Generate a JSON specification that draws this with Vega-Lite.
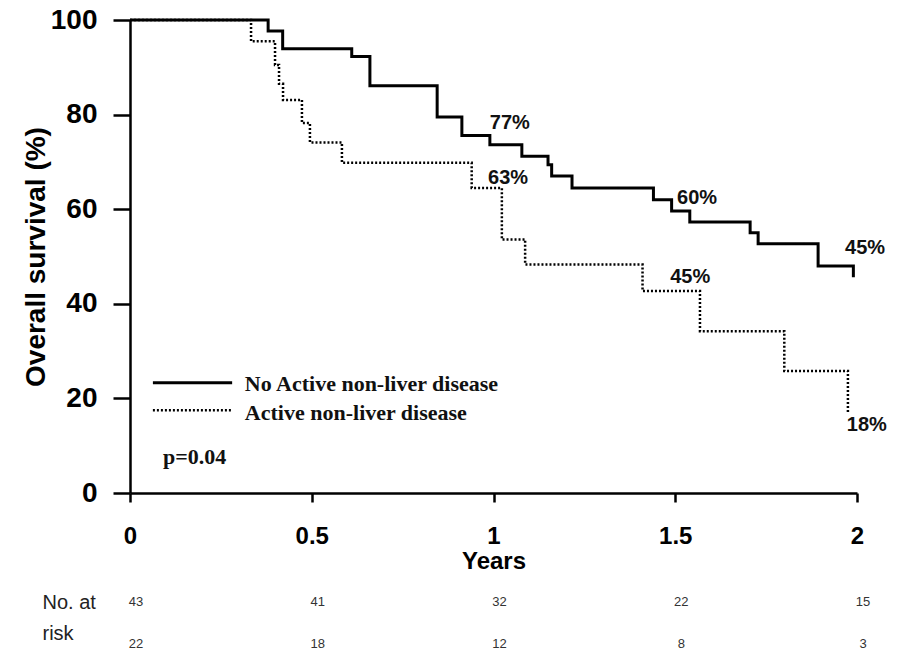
{
  "$schema": "https://vega.github.io/schema/vega-lite/v6.json",
  "autosize": {"type": "pad"},
  "padding": {"left": 22, "top": 6, "right": 5, "bottom": 0},
  "background": "white",
  "config": {"view": {"stroke": null}, "font": "Liberation Sans"},
  "datasets": {
    "km": [
      {"group": "No Active non-liver disease", "t": 0, "s": 100},
      {"group": "No Active non-liver disease", "t": 0.38, "s": 97.7},
      {"group": "No Active non-liver disease", "t": 0.42, "s": 93.9},
      {"group": "No Active non-liver disease", "t": 0.61, "s": 92.3},
      {"group": "No Active non-liver disease", "t": 0.66, "s": 86.1},
      {"group": "No Active non-liver disease", "t": 0.845, "s": 79.5},
      {"group": "No Active non-liver disease", "t": 0.913, "s": 75.6},
      {"group": "No Active non-liver disease", "t": 0.99, "s": 73.6},
      {"group": "No Active non-liver disease", "t": 1.078, "s": 71.2},
      {"group": "No Active non-liver disease", "t": 1.15, "s": 69.4},
      {"group": "No Active non-liver disease", "t": 1.16, "s": 67.0},
      {"group": "No Active non-liver disease", "t": 1.216, "s": 64.5},
      {"group": "No Active non-liver disease", "t": 1.44, "s": 62.0},
      {"group": "No Active non-liver disease", "t": 1.49, "s": 59.6},
      {"group": "No Active non-liver disease", "t": 1.54, "s": 57.3},
      {"group": "No Active non-liver disease", "t": 1.706, "s": 55.0},
      {"group": "No Active non-liver disease", "t": 1.728, "s": 52.7},
      {"group": "No Active non-liver disease", "t": 1.893, "s": 48.0},
      {"group": "No Active non-liver disease", "t": 1.99, "s": 45.6},
      {"group": "Active non-liver disease", "t": 0, "s": 100},
      {"group": "Active non-liver disease", "t": 0.333, "s": 95.5},
      {"group": "Active non-liver disease", "t": 0.399, "s": 90.5},
      {"group": "Active non-liver disease", "t": 0.41, "s": 86.5},
      {"group": "Active non-liver disease", "t": 0.421, "s": 83.1},
      {"group": "Active non-liver disease", "t": 0.473, "s": 78.2},
      {"group": "Active non-liver disease", "t": 0.495, "s": 74.1},
      {"group": "Active non-liver disease", "t": 0.583, "s": 69.8},
      {"group": "Active non-liver disease", "t": 0.94, "s": 64.5},
      {"group": "Active non-liver disease", "t": 1.023, "s": 53.6},
      {"group": "Active non-liver disease", "t": 1.087, "s": 48.3},
      {"group": "Active non-liver disease", "t": 1.41, "s": 42.7},
      {"group": "Active non-liver disease", "t": 1.568, "s": 34.2},
      {"group": "Active non-liver disease", "t": 1.8, "s": 25.8},
      {"group": "Active non-liver disease", "t": 1.975, "s": 17.0}
    ],
    "labels": [
      {"t": 0.99, "s": 78.3, "label": "77%"},
      {"t": 0.985, "s": 66.7, "label": "63%"},
      {"t": 1.505, "s": 62.4, "label": "60%"},
      {"t": 1.967, "s": 51.9, "label": "45%"},
      {"t": 1.486, "s": 45.6, "label": "45%"},
      {"t": 1.972, "s": 14.3, "label": "18%"}
    ],
    "one": [{}],
    "risk": [
      {"row": 1, "t": 0, "n": "43"},
      {"row": 1, "t": 0.5, "n": "41"},
      {"row": 1, "t": 1, "n": "32"},
      {"row": 1, "t": 1.5, "n": "22"},
      {"row": 1, "t": 2, "n": "15"},
      {"row": 2, "t": 0, "n": "22"},
      {"row": 2, "t": 0.5, "n": "18"},
      {"row": 2, "t": 1, "n": "12"},
      {"row": 2, "t": 1.5, "n": "8"},
      {"row": 2, "t": 2, "n": "3"}
    ]
  },
  "spacing": 19,
  "vconcat": [
    {
      "width": 727,
      "height": 473,
      "layer": [
        {
          "data": {"name": "km"},
          "mark": {"type": "line", "interpolate": "step-after", "color": "black"},
          "encoding": {
            "x": {
              "field": "t", "type": "quantitative",
              "scale": {"domain": [0, 2], "nice": false, "zero": false},
              "axis": {
                "values": [0, 0.5, 1, 1.5, 2],
                "labelExpr": "'' + datum.value",
                "title": "Years",
                "titleFontSize": 24, "titleFontWeight": "bold", "titleColor": "black", "titlePadding": 1,
                "labelFontSize": 24, "labelFontWeight": "bold", "labelColor": "black",
                "labelPadding": 22, "labelFlush": false, "labelOverlap": false,
                "tickSize": 9, "tickWidth": 2.5, "tickColor": "black",
                "domainColor": "black", "domainWidth": 2.5, "grid": false
              }
            },
            "y": {
              "field": "s", "type": "quantitative",
              "scale": {"domain": [0, 100], "nice": false},
              "axis": {
                "values": [0, 20, 40, 60, 80, 100],
                "title": "Overall survival (%)",
                "titleFontSize": 28, "titleFontWeight": "bold", "titleColor": "black", "titlePadding": 0,
                "labelFontSize": 28, "labelFontWeight": "bold", "labelColor": "black",
                "labelPadding": 16, "labelFlush": false, "labelOverlap": false,
                "tickSize": 17, "tickWidth": 2.5, "tickColor": "black",
                "domainColor": "black", "domainWidth": 2.5, "grid": false
              }
            },
            "strokeDash": {
              "field": "group", "type": "nominal",
              "scale": {"domain": ["No Active non-liver disease", "Active non-liver disease"], "range": [[1, 0], [2, 2]]},
              "legend": null
            },
            "strokeWidth": {
              "field": "group", "type": "nominal",
              "scale": {"domain": ["No Active non-liver disease", "Active non-liver disease"], "range": [3, 2.5]},
              "legend": null
            }
          }
        },
        {
          "data": {"name": "labels"},
          "mark": {"type": "text", "align": "left", "baseline": "middle", "fontSize": 20, "fontWeight": "bold", "color": "#111"},
          "encoding": {
            "x": {"field": "t", "type": "quantitative"},
            "y": {"field": "s", "type": "quantitative"},
            "text": {"field": "label"}
          }
        },
        {
          "data": {"name": "one"},
          "mark": {"type": "rule", "color": "black", "strokeWidth": 3},
          "encoding": {"x": {"datum": 0.063}, "x2": {"datum": 0.281}, "y": {"datum": 23.3}}
        },
        {
          "data": {"name": "one"},
          "mark": {"type": "rule", "color": "black", "strokeWidth": 2.5, "strokeDash": [2, 2]},
          "encoding": {"x": {"datum": 0.063}, "x2": {"datum": 0.281}, "y": {"datum": 17.5}}
        },
        {
          "data": {"name": "one"},
          "mark": {"type": "text", "align": "left", "baseline": "middle", "font": "Liberation Serif", "fontSize": 22, "fontWeight": "bold", "color": "#111"},
          "encoding": {"x": {"datum": 0.316}, "y": {"datum": 23.0}, "text": {"value": "No Active non-liver disease"}}
        },
        {
          "data": {"name": "one"},
          "mark": {"type": "text", "align": "left", "baseline": "middle", "font": "Liberation Serif", "fontSize": 22, "fontWeight": "bold", "color": "#111"},
          "encoding": {"x": {"datum": 0.316}, "y": {"datum": 16.9}, "text": {"value": "Active non-liver disease"}}
        },
        {
          "data": {"name": "one"},
          "mark": {"type": "text", "align": "left", "baseline": "middle", "font": "Liberation Serif", "fontSize": 22, "fontWeight": "bold", "color": "#111"},
          "encoding": {"x": {"datum": 0.091}, "y": {"datum": 7.6}, "text": {"value": "p=0.04"}}
        }
      ]
    },
    {
      "width": 727,
      "height": 62,
      "data": {"name": "risk"},
      "mark": {"type": "text", "fontSize": 13, "color": "#333", "dx": 6, "baseline": "middle"},
      "encoding": {
        "x": {"field": "t", "type": "quantitative", "scale": {"domain": [0, 2], "nice": false}, "axis": null},
        "y": {
          "field": "row", "type": "ordinal",
          "scale": {"type": "point", "padding": 0.25},
          "axis": {
            "title": null, "domain": false, "ticks": false, "tickSize": 0,
            "labelExpr": "datum.value == 1 ? 'No. at' : 'risk'",
            "labelAlign": "left", "labelPadding": 88, "labelFontSize": 20, "labelColor": "#222",
            "labelOffset": {"condition": {"test": "datum.value == 2", "value": -10}, "value": 0}
          }
        },
        "text": {"field": "n"}
      }
    }
  ]
}
